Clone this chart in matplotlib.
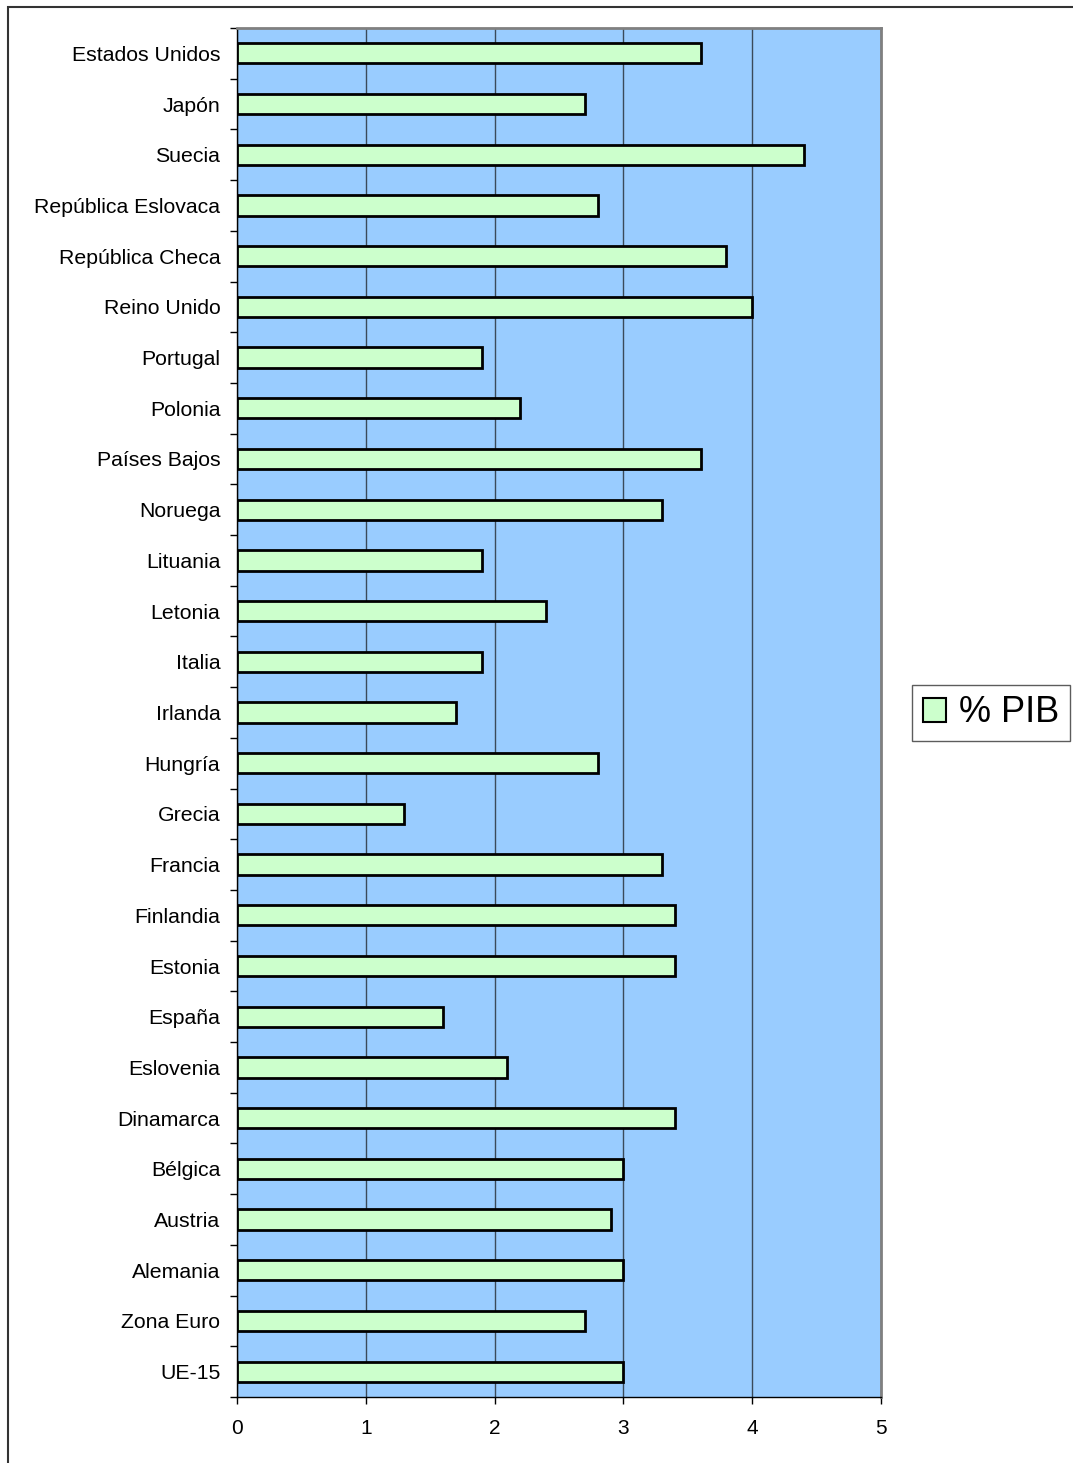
import matplotlib
matplotlib.use("Agg")
import matplotlib.pyplot as plt
import numpy as np
from matplotlib.patches import Rectangle, Patch

plt.rcParams['font.family'] = ['Liberation Sans', 'DejaVu Sans']

countries = ["Estados Unidos", "Japón", "Suecia", "República Eslovaca", "República Checa",
             "Reino Unido", "Portugal", "Polonia", "Países Bajos", "Noruega", "Lituania",
             "Letonia", "Italia", "Irlanda", "Hungría", "Grecia", "Francia", "Finlandia",
             "Estonia", "España", "Eslovenia", "Dinamarca", "Bélgica", "Austria",
             "Alemania", "Zona Euro", "UE-15"]
values = [3.6, 2.7, 4.4, 2.8, 3.8, 4.0, 1.9, 2.2, 3.6, 3.3, 1.9, 2.4, 1.9, 1.7, 2.8,
          1.3, 3.3, 3.4, 3.4, 1.6, 2.1, 3.4, 3.0, 2.9, 3.0, 2.7, 3.0]
xticks = [0, 1, 2, 3, 4, 5]
series_name = "% PIB"

W, H = 1073, 1463
fig = plt.figure(figsize=(W / 100, H / 100), dpi=100)
ax = fig.add_axes([237 / W, 1 - 1397 / H, (881 - 237) / W, (1397 - 28) / H])

n = len(countries)
y = np.arange(n)
ax.set_facecolor('#99CCFF')
ax.barh(y, values, height=0.4, color='#CCFFCC', edgecolor='black', linewidth=2,
        zorder=3, label=series_name)
ax.set_xlim(0, 5)
ax.set_ylim(n - 0.5, -0.5)

ax.set_xticks(xticks)
ax.set_xticklabels([str(t) for t in xticks], fontsize=15)
ax.xaxis.grid(True, color='#3a4a5a', linewidth=1.0, zorder=1)
ax.set_axisbelow(True)

ax.set_yticks(y)
ax.set_yticklabels(countries, fontsize=15.3)
ax.set_yticks(np.arange(n + 1) - 0.5, minor=True)
ax.tick_params(axis='y', which='major', length=0, pad=12)
ax.tick_params(axis='y', which='minor', length=5, width=1, direction='out', color='black')
ax.tick_params(axis='x', length=5, width=1, direction='out', pad=11, color='black')

for s in ['top', 'right']:
    ax.spines[s].set_color('#808080')
    ax.spines[s].set_linewidth(2)
for s in ['left', 'bottom']:
    ax.spines[s].set_color('black')
    ax.spines[s].set_linewidth(1)

# outer chart frame
fig.patches.append(Rectangle((8 / W, -0.01), 1.1, 1 - 7 / H + 0.01, transform=fig.transFigure,
                             fill=False, edgecolor='#333333', linewidth=1.5))

handle = Patch(facecolor='#CCFFCC', edgecolor='black', linewidth=1.5)
leg = fig.legend([handle], [series_name], loc='center left',
                 bbox_to_anchor=(912 / W, 1 - 713 / H), fontsize=26, frameon=True,
                 fancybox=False, edgecolor='#333333', handlelength=0.65, handleheight=0.65,
                 handletextpad=0.35, borderpad=0.3, borderaxespad=0)
leg.get_frame().set_linewidth(1)

fig.savefig("out.png", dpi=100)
